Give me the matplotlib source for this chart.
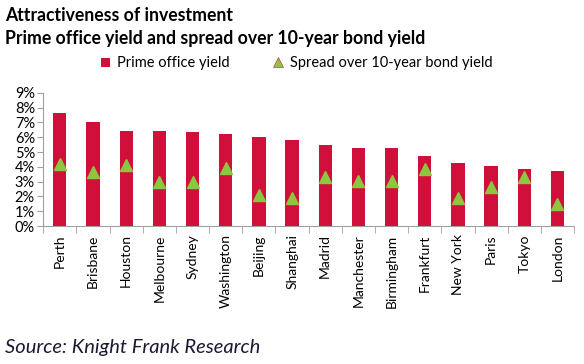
import matplotlib
matplotlib.use("Agg")
import matplotlib.pyplot as plt
import numpy as np
from matplotlib.lines import Line2D
from matplotlib.patches import Patch
from matplotlib.ticker import MultipleLocator, PercentFormatter

# Data (percent)
cities = ["Perth", "Brisbane", "Houston", "Melbourne", "Sydney", "Washington",
          "Beijing", "Shanghai", "Madrid", "Manchester", "Birmingham",
          "Frankfurt", "New York", "Paris", "Tokyo", "London"]
prime_yield = [7.65, 7.05, 6.45, 6.42, 6.37, 6.24, 6.04, 5.84,
               5.50, 5.29, 5.29, 4.73, 4.25, 4.05, 3.85, 3.73]
spread = [4.22, 3.67, 4.12, 3.00, 2.96, 3.90, 2.12, 1.92,
          3.33, 3.05, 3.05, 3.85, 1.92, 2.67, 3.33, 1.49]

BAR_COLOR = "#D0103A"
TRI_COLOR = "#8DC63F"
FONT = "Lato"

plt.rcParams["font.family"] = [FONT, "DejaVu Sans"]

fig = plt.figure(figsize=(5.84, 3.64), dpi=100)
ax = fig.add_axes([0.074, 0.379, 0.909, 0.366])

x = np.arange(len(cities))
ax.bar(x, prime_yield, width=0.4, color=BAR_COLOR, zorder=2)
ax.plot(x, spread, linestyle="none", marker="^", markersize=9,
        color=TRI_COLOR, markeredgecolor=TRI_COLOR, zorder=3)

ax.set_xlim(-0.5, len(cities) - 0.5)
ax.set_ylim(0, 9)
ax.yaxis.set_major_locator(MultipleLocator(1))
ax.yaxis.set_major_formatter(PercentFormatter(decimals=0))

ax.set_xticks(x)
ax.set_xticklabels(cities, rotation=90, fontsize=10)
ax.set_xticks(np.arange(-0.5, len(cities), 1), minor=True)
ax.tick_params(axis="x", which="major", length=0, pad=6)
ax.tick_params(axis="x", which="minor", length=5, color="#A0A0A0")
ax.tick_params(axis="y", length=4, color="#A0A0A0", labelsize=10.5, pad=2)

for side in ["top", "right"]:
    ax.spines[side].set_visible(False)
for side in ["left", "bottom"]:
    ax.spines[side].set_color("#A0A0A0")

fig.text(0.008, 0.958, "Attractiveness of investment", fontsize=12.7,
         fontweight="bold", va="center", ha="left")
fig.text(0.008, 0.895, "Prime office yield and spread over 10-year bond yield",
         fontsize=12.7, fontweight="bold", va="center", ha="left")

# legend: bar first, then the triangle marker
handles = [
    Patch(facecolor=BAR_COLOR, edgecolor="none"),
    Line2D([], [], linestyle="none", marker="^", markersize=7,
           color=TRI_COLOR, markeredgecolor=BAR_COLOR, markeredgewidth=0.4),
]
fig.legend(handles, ["Prime office yield", "Spread over 10-year bond yield"],
           loc="center", bbox_to_anchor=(0.508, 0.826), ncol=2, frameon=False,
           fontsize=10.5, handlelength=0.6, handleheight=0.6,
           handletextpad=0.5, columnspacing=3.0)

fig.text(0.008, 0.044, "Source: Knight Frank Research", fontsize=14.5,
         style="italic", color="#1A1A33", va="center", ha="left")

fig.savefig("out.png", dpi=100)
